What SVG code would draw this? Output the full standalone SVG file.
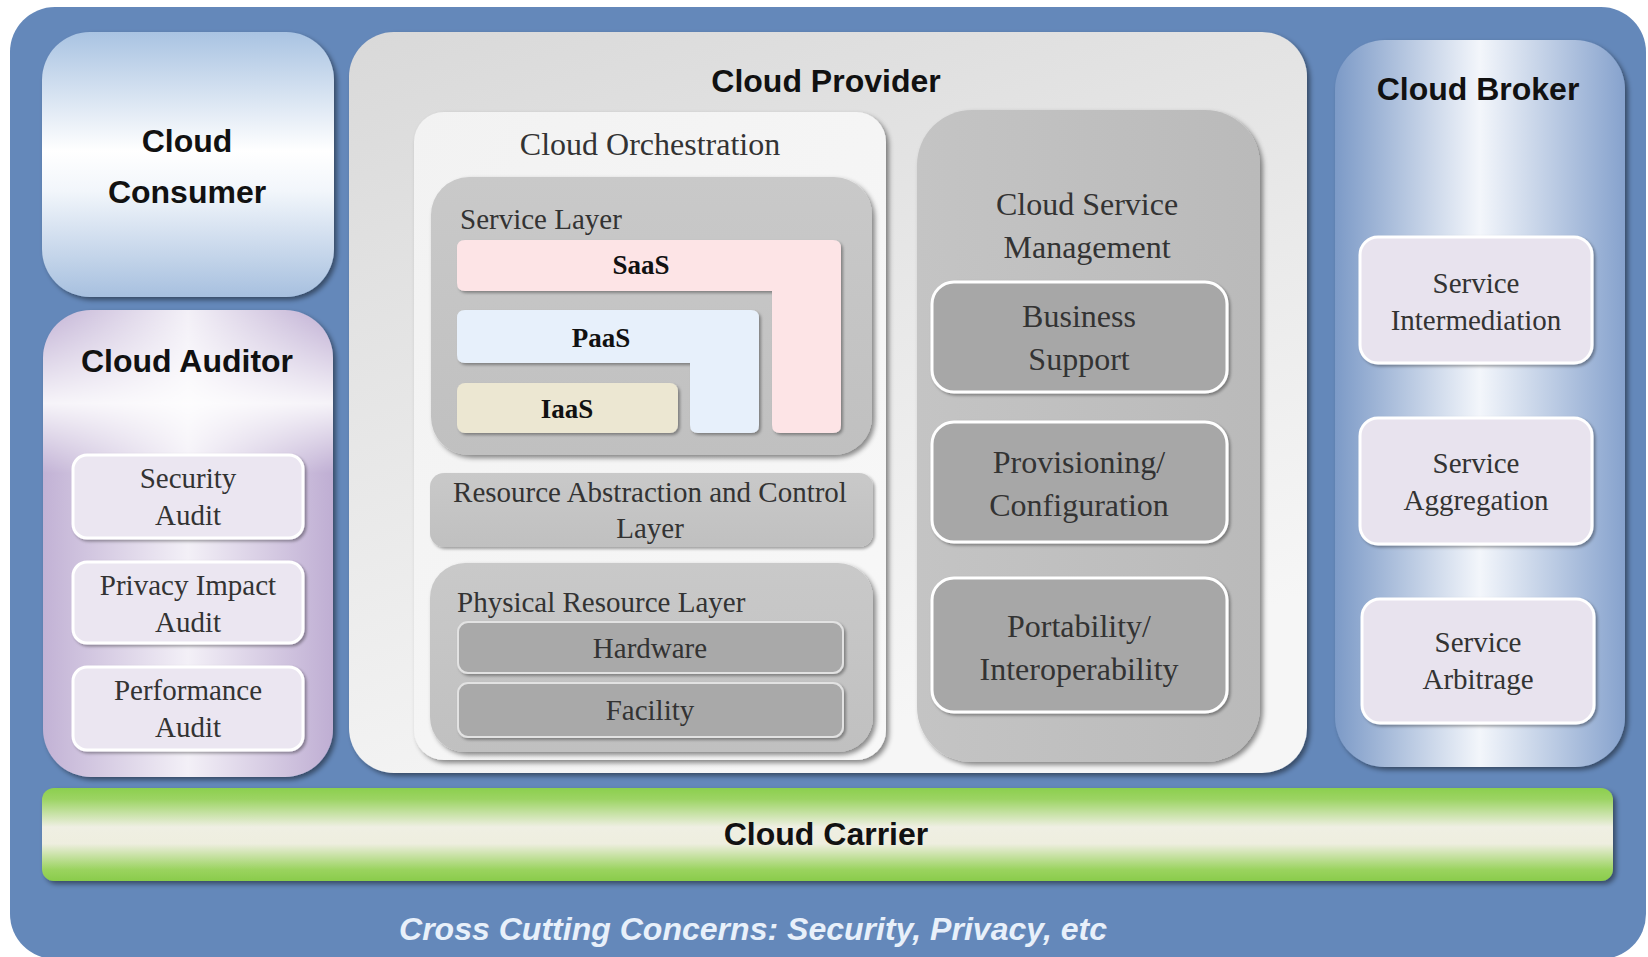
<svg xmlns="http://www.w3.org/2000/svg" width="1648" height="957" viewBox="0 0 1648 957">
<style>
.title{font-family:"Liberation Sans",Arial,sans-serif;font-weight:bold;font-size:32px;fill:#111;text-anchor:middle}
.serif{font-family:"Liberation Serif","Times New Roman",serif;font-size:29px;fill:#333;text-anchor:middle}
.big{font-size:32px}
.bold{font-weight:bold;font-size:27px;fill:#111}
.start{text-anchor:start}
.subbox{stroke:#fff;stroke-width:3}
</style>
<defs>
<filter id="sh" x="-10%" y="-10%" width="125%" height="125%">
<feDropShadow dx="3" dy="3" stdDeviation="2.5" flood-color="#000" flood-opacity="0.45"/>
</filter>
<filter id="shs" x="-10%" y="-10%" width="125%" height="130%">
<feDropShadow dx="2" dy="2" stdDeviation="1.5" flood-color="#000" flood-opacity="0.35"/>
</filter>
<linearGradient id="consumerG" x1="0" y1="0" x2="0" y2="1">
<stop offset="0" stop-color="#a9c3e2"/><stop offset="0.45" stop-color="#ffffff"/><stop offset="0.6" stop-color="#f2f6fb"/><stop offset="1" stop-color="#a7c0df"/>
</linearGradient>
<linearGradient id="auditorG" x1="0" y1="0" x2="1" y2="0">
<stop offset="0" stop-color="#c2b2d5"/><stop offset="0.5" stop-color="#f3f0f7"/><stop offset="1" stop-color="#bfaed3"/>
</linearGradient>
<linearGradient id="auditorV" x1="0" y1="0" x2="0" y2="1">
<stop offset="0" stop-color="#fff" stop-opacity="0"/><stop offset="0.2" stop-color="#fff" stop-opacity="0.85"/><stop offset="0.35" stop-color="#fff" stop-opacity="0"/><stop offset="1" stop-color="#fff" stop-opacity="0"/>
</linearGradient>
<linearGradient id="brokerG" x1="0" y1="0" x2="1" y2="0">
<stop offset="0" stop-color="#7c9ac7"/><stop offset="0.5" stop-color="#f3f6fb"/><stop offset="1" stop-color="#86a2cd"/>
</linearGradient>
<linearGradient id="providerG" x1="0" y1="0" x2="0.4" y2="1">
<stop offset="0" stop-color="#d9d9d9"/><stop offset="1" stop-color="#f6f6f6"/>
</linearGradient>
<linearGradient id="orchG" x1="0" y1="0" x2="1" y2="1">
<stop offset="0" stop-color="#f2f2f2"/><stop offset="1" stop-color="#f8f8f8"/>
</linearGradient>
<linearGradient id="grayG" x1="0" y1="0" x2="0" y2="1">
<stop offset="0" stop-color="#c9c9c9"/><stop offset="1" stop-color="#c0c0c0"/>
</linearGradient>
<linearGradient id="csmG" x1="0" y1="0" x2="1" y2="0">
<stop offset="0" stop-color="#c4c4c4"/><stop offset="1" stop-color="#bababa"/>
</linearGradient>
<linearGradient id="carrierG" x1="0" y1="0" x2="0" y2="1">
<stop offset="0" stop-color="#8ccf4e"/><stop offset="0.12" stop-color="#9cd463"/><stop offset="0.42" stop-color="#efefe3"/><stop offset="0.6" stop-color="#eeeedf"/><stop offset="0.88" stop-color="#9ad35e"/><stop offset="1" stop-color="#8acc4b"/>
</linearGradient>
</defs>

<rect x="0" y="0" width="1648" height="957" fill="#ffffff"/>
<g id="frame">
<rect x="10" y="7" width="1636" height="952" rx="45" fill="#6488ba"/>
<text x="753" y="940" textLength="708" lengthAdjust="spacingAndGlyphs" style="font-family:'Liberation Sans',Arial,sans-serif;font-weight:bold;font-style:italic;font-size:32px;fill:#e8f0fa;text-anchor:middle">Cross Cutting Concerns: Security, Privacy, etc</text>
</g>

<g id="cloud-consumer">
<rect x="42" y="32" width="292" height="265" rx="48" fill="url(#consumerG)" filter="url(#sh)"/>
<text class="title" x="187" y="152">Cloud</text>
<text class="title" x="187" y="203">Consumer</text>
</g>

<g id="cloud-auditor">
<rect x="43" y="310" width="290" height="467" rx="48" fill="url(#auditorG)" filter="url(#sh)"/>
<rect x="43" y="310" width="290" height="467" rx="48" fill="url(#auditorV)"/>
<text class="title" x="187" y="372">Cloud Auditor</text>
<g id="security-audit">
<rect class="subbox" x="73" y="455" width="230" height="83" rx="14" fill="#ebe6f1" filter="url(#shs)"/>
<text class="serif" x="188" y="488">Security</text>
<text class="serif" x="188" y="525">Audit</text>
</g>
<g id="privacy-impact-audit">
<rect class="subbox" x="73" y="562" width="230" height="81" rx="14" fill="#ebe6f1" filter="url(#shs)"/>
<text class="serif" x="188" y="595">Privacy Impact</text>
<text class="serif" x="188" y="632">Audit</text>
</g>
<g id="performance-audit">
<rect class="subbox" x="73" y="667" width="230" height="83" rx="14" fill="#ebe6f1" filter="url(#shs)"/>
<text class="serif" x="188" y="700">Performance</text>
<text class="serif" x="188" y="737">Audit</text>
</g>
</g>

<g id="cloud-provider">
<rect x="349" y="32" width="958" height="741" rx="45" fill="url(#providerG)" filter="url(#sh)"/>
<text class="title" x="826" y="92">Cloud Provider</text>

<g id="cloud-orchestration">
<rect x="414" y="112" width="472" height="648" rx="30" fill="url(#orchG)" filter="url(#sh)"/>
<text class="serif big" x="650" y="155">Cloud Orchestration</text>

<g id="service-layer">
<rect x="431" y="177" width="441" height="278" rx="38" fill="url(#grayG)" filter="url(#sh)"/>
<text class="serif start" x="460" y="229">Service Layer</text>
<g id="saas">
<path d="M465,240 H833 Q841,240 841,248 V425 Q841,433 833,433 H780 Q772,433 772,425 V291 H465 Q457,291 457,283 V248 Q457,240 465,240 Z" fill="#fde4e6" filter="url(#shs)"/>
<text class="serif bold" x="641" y="274">SaaS</text>
</g>
<g id="paas">
<path d="M465,310 H751 Q759,310 759,318 V425 Q759,433 751,433 H698 Q690,433 690,425 V363 H465 Q457,363 457,355 V318 Q457,310 465,310 Z" fill="#e7f0fb" filter="url(#shs)"/>
<text class="serif bold" x="601" y="347">PaaS</text>
</g>
<g id="iaas">
<rect x="457" y="383" width="221" height="50" rx="8" fill="#ece7d2" filter="url(#shs)"/>
<text class="serif bold" x="567" y="418">IaaS</text>
</g>
</g>

<g id="resource-abstraction">
<rect x="430" y="473" width="443" height="74" rx="14" fill="url(#grayG)" filter="url(#shs)"/>
<text class="serif" x="650" y="502">Resource Abstraction and Control</text>
<text class="serif" x="650" y="538">Layer</text>
</g>

<g id="physical-resource-layer">
<rect x="430" y="563" width="443" height="189" rx="35" fill="url(#grayG)" filter="url(#sh)"/>
<text class="serif start" x="457" y="612">Physical Resource Layer</text>
<g id="hardware">
<rect x="458" y="622" width="385" height="51" rx="10" fill="#a9a9a9" stroke="#e2e2e2" stroke-width="2" filter="url(#shs)"/>
<text class="serif" x="650" y="658">Hardware</text>
</g>
<g id="facility">
<rect x="458" y="683" width="385" height="54" rx="10" fill="#a9a9a9" stroke="#e2e2e2" stroke-width="2" filter="url(#shs)"/>
<text class="serif" x="650" y="720">Facility</text>
</g>
</g>
</g>

<g id="cloud-service-management">
<rect x="917" y="110" width="343" height="652" rx="55" fill="url(#csmG)" filter="url(#sh)"/>
<text class="serif big" x="1087" y="215">Cloud Service</text>
<text class="serif big" x="1087" y="258">Management</text>
<g id="business-support">
<rect class="subbox" x="932" y="282" width="295" height="110" rx="22" fill="#a7a7a7" filter="url(#shs)"/>
<text class="serif big" x="1079" y="327">Business</text>
<text class="serif big" x="1079" y="370">Support</text>
</g>
<g id="provisioning-configuration">
<rect class="subbox" x="932" y="422" width="295" height="120" rx="22" fill="#a7a7a7" filter="url(#shs)"/>
<text class="serif big" x="1079" y="473">Provisioning/</text>
<text class="serif big" x="1079" y="516">Configuration</text>
</g>
<g id="portability-interoperability">
<rect class="subbox" x="932" y="578" width="295" height="134" rx="22" fill="#a7a7a7" filter="url(#shs)"/>
<text class="serif big" x="1079" y="637">Portability/</text>
<text class="serif big" x="1079" y="680">Interoperability</text>
</g>
</g>
</g>

<g id="cloud-broker">
<rect x="1335" y="40" width="290" height="727" rx="50" fill="url(#brokerG)" filter="url(#sh)"/>
<text class="title" x="1478" y="100">Cloud Broker</text>
<g id="service-intermediation">
<rect class="subbox" x="1360" y="237" width="232" height="126" rx="18" fill="#e8e3ee" filter="url(#shs)"/>
<text class="serif" x="1476" y="293">Service</text>
<text class="serif" x="1476" y="330">Intermediation</text>
</g>
<g id="service-aggregation">
<rect class="subbox" x="1360" y="418" width="232" height="126" rx="18" fill="#e8e3ee" filter="url(#shs)"/>
<text class="serif" x="1476" y="473">Service</text>
<text class="serif" x="1476" y="510">Aggregation</text>
</g>
<g id="service-arbitrage">
<rect class="subbox" x="1362" y="599" width="232" height="124" rx="18" fill="#e8e3ee" filter="url(#shs)"/>
<text class="serif" x="1478" y="652">Service</text>
<text class="serif" x="1478" y="689">Arbitrage</text>
</g>
</g>

<g id="cloud-carrier">
<rect x="42" y="788" width="1571" height="93" rx="12" fill="url(#carrierG)" filter="url(#sh)"/>
<text class="title" x="826" y="845">Cloud Carrier</text>
</g>

<g id="connectors"/>
</svg>
